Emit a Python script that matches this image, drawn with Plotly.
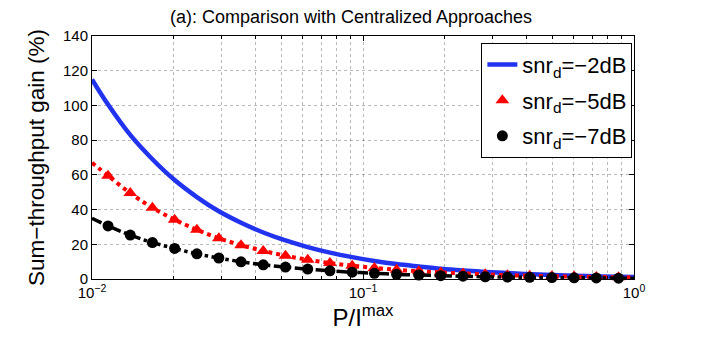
import plotly.graph_objects as go

# P/I^max sample points (curve ends + marker positions)
p_ratio = [0.01, 0.01146, 0.01384, 0.01671, 0.02018, 0.02438, 0.02938, 0.03548,
           0.04285, 0.05176, 0.06252, 0.07551, 0.0912, 0.1102, 0.1330, 0.1607,
           0.1936, 0.2339, 0.2825, 0.3412, 0.4121, 0.4977, 0.6012, 0.7261,
           0.8770, 1.0]

gain_2db = [115, 100.5, 83, 69, 57, 47.2, 39, 32.4, 26.8, 22.2, 18.4, 15.2,
            12.6, 10.4, 8.6, 7.2, 5.9, 4.9, 4.1, 3.4, 2.8, 2.3, 1.9, 1.6, 1.3, 1.15]
gain_5db = [67, 59.5, 49.5, 41.0, 34.2, 28.4, 23.5, 19.5, 16.2, 13.4, 11.1, 9.2,
            7.7, 6.4, 5.3, 4.5, 3.8, 3.2, 2.7, 2.2, 1.9, 1.6, 1.4, 1.2, 1.0, 0.9]
gain_7db = [35, 30.6, 25.3, 21.0, 17.6, 14.5, 12.1, 9.9, 8.2, 6.9, 5.7, 4.7,
            3.9, 3.3, 2.7, 2.3, 1.9, 1.6, 1.3, 1.1, 0.95, 0.8, 0.7, 0.6, 0.5, 0.45]

series_names = ["snr<sub>d</sub>=−2dB", "snr<sub>d</sub>=−5dB", "snr<sub>d</sub>=−7dB"]

x_ticks = [0.01, 0.1, 1]
x_ticktext = ["10<sup>−2</sup>", "10<sup>−1</sup>", "10<sup>0</sup>"]
x_minor = [0.02, 0.03, 0.04, 0.05, 0.06, 0.07, 0.08, 0.09,
           0.2, 0.3, 0.4, 0.5, 0.6, 0.7, 0.8, 0.9]
y_ticks = [0, 20, 40, 60, 80, 100, 120, 140]

FONT = "Liberation Sans, Arial, Helvetica, sans-serif"
GRID = "rgba(0,0,0,0.28)"

fig = go.Figure()

fig.add_trace(go.Scatter(
    x=p_ratio, y=gain_2db, name=series_names[0], mode="lines",
    line=dict(color="#2233f0", width=4.5, shape="spline"),
    legendgroup="a", cliponaxis=False,
))

# line through all points, markers on the inner ones
fig.add_trace(go.Scatter(
    x=p_ratio, y=gain_5db, name=series_names[1], mode="lines",
    line=dict(color="#ff0000", width=4, dash="dot", shape="spline"),
    legendgroup="b", showlegend=False, cliponaxis=False,
))
fig.add_trace(go.Scatter(
    x=p_ratio[1:-1], y=gain_5db[1:-1], name=series_names[1], mode="markers",
    marker=dict(symbol="triangle-up", size=12, color="#ff0000"),
    legendgroup="b", cliponaxis=False,
))

fig.add_trace(go.Scatter(
    x=p_ratio, y=gain_7db, name=series_names[2], mode="lines",
    line=dict(color="black", width=3.5, dash="dashdot", shape="spline"),
    legendgroup="c", showlegend=False, cliponaxis=False,
))
fig.add_trace(go.Scatter(
    x=p_ratio[1:-1], y=gain_7db[1:-1], name=series_names[2], mode="markers",
    marker=dict(symbol="circle", size=11, color="black"),
    legendgroup="c", cliponaxis=False,
))

# page body adds an 8px offset, margins are set to compensate
fig.update_layout(
    width=695, height=346,
    paper_bgcolor="white", plot_bgcolor="white",
    margin=dict(l=84, r=69, t=28, b=75),
    font=dict(family=FONT, color="black", size=15),
    title=dict(text="(a): Comparison with Centralized Approaches",
               x=343 / 695, xref="container", xanchor="center",
               y=1 - 9 / 346, yref="container", yanchor="middle",
               font=dict(size=18)),
    legend=dict(x=0.997, y=0.972, xanchor="right", yanchor="top",
                bgcolor="white", bordercolor="black", borderwidth=1,
                font=dict(size=22), itemwidth=30, tracegroupgap=4,
                traceorder="grouped"),
    showlegend=True,
)

fig.update_xaxes(
    type="log", range=[-2, 0],
    tickmode="array", tickvals=x_ticks, ticktext=x_ticktext,
    ticks="inside", ticklen=5, tickcolor="black",
    showline=True, linecolor="black", linewidth=1, mirror="ticks",
    showgrid=True, gridcolor=GRID, griddash="dot", gridwidth=1,
    minor=dict(tickmode="array", tickvals=x_minor, ticks="inside", ticklen=3,
               tickcolor="black", showgrid=True, gridcolor=GRID, griddash="dot"),
    title=dict(text="P/I<sup>max</sup>", font=dict(size=24), standoff=4),
    zeroline=False,
)
fig.update_yaxes(
    range=[0, 140], tickmode="array", tickvals=y_ticks,
    ticks="inside", ticklen=5, tickcolor="black",
    showline=True, linecolor="black", linewidth=1, mirror="ticks",
    showgrid=True, gridcolor=GRID, griddash="dot", gridwidth=1,
    title=dict(text="Sum−throughput gain (%)", font=dict(size=22.5), standoff=12),
    zeroline=False,
)

fig.write_html("out.html")
